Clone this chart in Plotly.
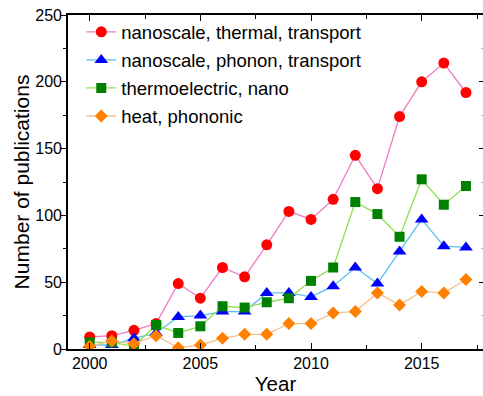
import plotly.graph_objects as go

# Publication counts per year for four keyword searches
years = list(range(2000, 2018))
thermal_transport = [9, 10, 14, 19, 49, 38, 61, 54, 78, 103, 97, 112, 145, 120, 174, 200, 214, 192]
phonon_transport = [3, 3, 8, 12, 24, 25, 28, 28, 42, 42, 39, 47, 61, 49, 73, 97, 77, 76]
thermoelectric_nano = [5, 5, 2, 18, 12, 17, 32, 31, 35, 38, 51, 61, 110, 101, 84, 127, 108, 122]
heat_phononic = [2, 6, 4, 10, 1, 3, 8, 11, 11, 19, 19, 27, 28, 42, 33, 43, 42, 52]

series_names = [
    "nanoscale, thermal, transport",
    "nanoscale, phonon, transport",
    "thermoelectric, nano",
    "heat, phononic",
]

FONT = "Liberation Sans, Arial, sans-serif"

styles = [
    dict(symbol="circle", size=11, mcolor="#FF0000", lcolor="#F07CC4"),
    dict(symbol="triangle-up", size=12, mcolor="#0000FF", lcolor="#5CC0F0"),
    dict(symbol="square", size=10, mcolor="#008000", lcolor="#90E050"),
    dict(symbol="diamond", size=10, mcolor="#FF8000", lcolor="#F8C090"),
]

fig = go.Figure()
for i, (name, vals, st) in enumerate(zip(series_names,
                                          [thermal_transport, phonon_transport,
                                           thermoelectric_nano, heat_phononic],
                                          styles)):
    fig.add_trace(go.Scatter(
        x=years, y=vals, name=name, mode="lines+markers",
        legendgroup=f"g{i}",
        line=dict(color=st["lcolor"], width=1.3),
        marker=dict(symbol=st["symbol"], size=st["size"], color=st["mcolor"],
                    line=dict(width=0)),
    ))

# Invisible trace to carry a right-hand axis with inward ticks
fig.add_trace(go.Scatter(x=[years[0]], y=[0], yaxis="y2", showlegend=False,
                         mode="markers", marker=dict(opacity=0), hoverinfo="skip"))

fig.update_layout(
    width=483, height=396,
    margin=dict(l=68, r=0, t=15, b=47),
    paper_bgcolor="white", plot_bgcolor="white",
    font=dict(family=FONT, color="black"),
    showlegend=True,
    legend=dict(
        x=0.032, y=1.005, xanchor="left", yanchor="top",
        font=dict(size=18.5, family=FONT),
        bgcolor="rgba(0,0,0,0)",
        traceorder="grouped", tracegroupgap=1,
    ),
    xaxis=dict(
        range=[1999.02, 2017.77],
        tickmode="linear", tick0=2000, dtick=5,
        ticks="inside", ticklen=6, tickwidth=1.3, tickcolor="black",
        minor=dict(ticks="inside", dtick=2.5, tick0=2000, ticklen=4, tickwidth=1.3, tickcolor="black"),
        showline=True, linecolor="black", linewidth=1.6, mirror="ticks",
        showgrid=False, zeroline=False,
        tickfont=dict(size=16, family=FONT),
        ticklabelstandoff=-1,
        title=dict(text="Year", font=dict(size=20.5, family=FONT), standoff=5),
    ),
    yaxis=dict(
        range=[0, 250],
        tickmode="linear", tick0=0, dtick=50,
        ticks="outside", ticklen=5, tickwidth=1.3, tickcolor="black",
        minor=dict(ticks="outside", dtick=25, ticklen=3, tickwidth=1.3, tickcolor="black"),
        showline=True, linecolor="black", linewidth=1.6, mirror=False,
        showgrid=False, zeroline=False,
        tickfont=dict(size=16, family=FONT),
        ticklabelstandoff=-4,
        title=dict(text="Number of publications", font=dict(size=21, family=FONT), standoff=0),
    ),
    yaxis2=dict(
        overlaying="y", side="right", range=[0, 250],
        tickmode="linear", tick0=0, dtick=50,
        ticks="inside", ticklen=4, tickwidth=1.3, tickcolor="black",
        minor=dict(ticks="inside", dtick=25, ticklen=2, tickwidth=1, tickcolor="#BBBBBB"),
        showticklabels=False, showline=False, showgrid=False, zeroline=False,
    ),
)

fig.write_html("out.html")
